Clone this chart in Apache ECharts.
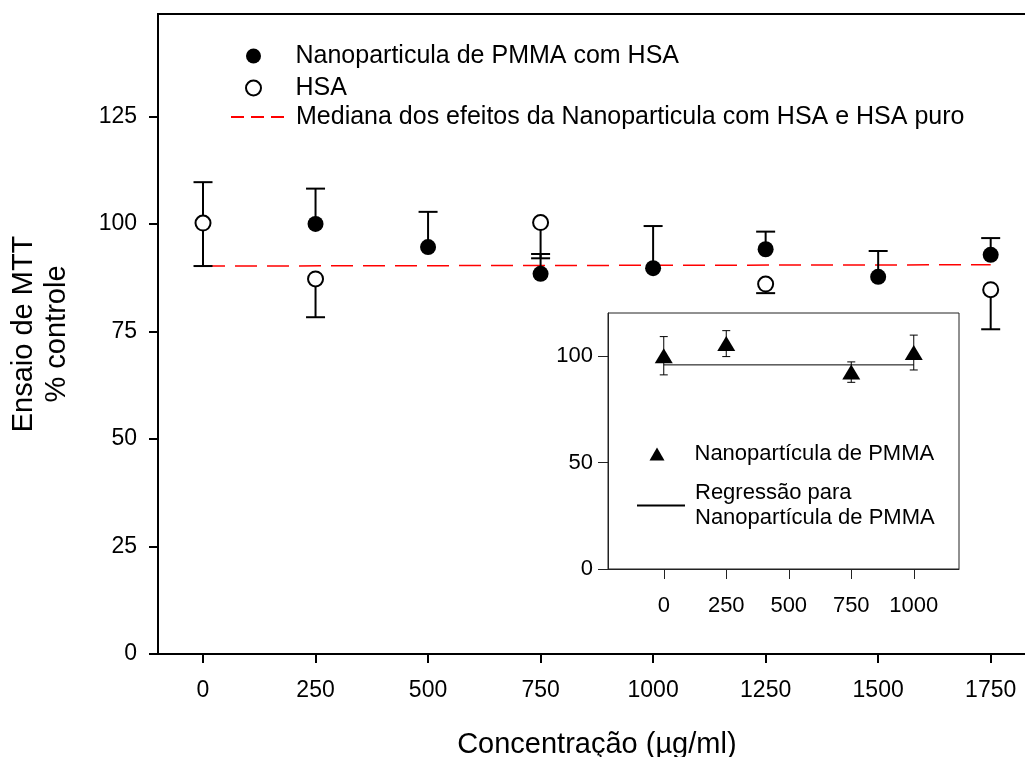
<!DOCTYPE html>
<html><head><meta charset="utf-8">
<script src="https://cdn.jsdelivr.net/npm/echarts@6/dist/echarts.min.js"></script>
<style>html,body{margin:0;padding:0;background:#fff}#c{width:1025px;height:757px}</style>
</head><body><div id="c"></div>
<script>
// ---- Main chart data ----
const xTicks = [0, 250, 500, 750, 1000, 1250, 1500, 1750];
const yTicks = [0, 25, 50, 75, 100, 125];
const nanoHsaX = [250, 500, 750, 1000, 1250, 1500, 1750];
const nanoHsaY = [100, 94.6, 88.4, 89.7, 94.1, 87.7, 92.8];
const nanoHsaErrUp = [8.2, 8.2, 4.6, 9.8, 4.1, 6.0, 3.9];
const hsaX = [0, 250, 750, 1250, 1750];
const hsaY = [100.2, 87.2, 100.3, 86.0, 84.7];
const hsaErrUp = [9.5, 0, 0, 0, 0];
const hsaErrDown = [10, 8.9, 8.3, 2.1, 9.2];
const medianX = [0, 1750];
const medianY = [90.2, 90.5];

// ---- Inset data ----
const insetXTicks = [0, 250, 500, 750, 1000];
const insetYTicks = [0, 50, 100];
const insetX = [0, 250, 750, 1000];
const insetY = [100.3, 106, 92.6, 101.8];
const insetErr = [9, 6.1, 4.8, 8.2];
const regressionX = [0, 1000];
const regressionY = [96, 96];

const FONT = "'Liberation Sans', Arial, sans-serif";
const NAME_NANO_HSA = 'Nanoparticula de PMMA com HSA';
const NAME_HSA = 'HSA';
const NAME_MED = 'Mediana dos efeitos da Nanoparticula com HSA e HSA puro';
const NAME_NANO = 'Nanopartícula de PMMA';
const NAME_REG = 'Regressão para Nanopartícula de PMMA';
const plain = v => String(v);
const hiddenDot = { color: 'rgba(0,0,0,0)', borderWidth: 0, borderColor: 'rgba(0,0,0,0)' };

function errRender(capHalf, lw) {
  return function (params, api) {
    const x = api.value(0), lo = api.value(1), hi = api.value(2);
    const pLo = api.coord([x, lo]), pHi = api.coord([x, hi]);
    const st = { stroke: '#000', lineWidth: lw };
    const ch = [{ type: 'line', shape: { x1: pLo[0], y1: pLo[1], x2: pHi[0], y2: pHi[1] }, style: st }];
    if (api.value(3)) ch.push({ type: 'line', shape: { x1: pLo[0] - capHalf, y1: pLo[1], x2: pLo[0] + capHalf, y2: pLo[1] }, style: st });
    if (api.value(4)) ch.push({ type: 'line', shape: { x1: pHi[0] - capHalf, y1: pHi[1], x2: pHi[0] + capHalf, y2: pHi[1] }, style: st });
    return { type: 'group', children: ch };
  };
}

const nanoHsaErrData = nanoHsaX.map((x, i) => [x, nanoHsaY[i], nanoHsaY[i] + nanoHsaErrUp[i], 0, 1]);
const hsaErrData = hsaX.map((x, i) => [x, hsaY[i] - hsaErrDown[i], hsaY[i] + hsaErrUp[i], hsaErrDown[i] > 0 ? 1 : 0, hsaErrUp[i] > 0 ? 1 : 0]);
const insetErrData = insetX.map((x, i) => [x, insetY[i] - insetErr[i], insetY[i] + insetErr[i], 1, 1]);

const legendText = (size, pad) => ({ fontSize: size, lineHeight: 25, color: '#000', fontFamily: FONT, padding: [0, 0, 0, pad] });

const chart = echarts.init(document.getElementById('c'), null, { renderer: 'canvas' });
chart.setOption({
  animation: false,
  backgroundColor: '#fff',
  grid: [
    { left: 158, top: 14, width: 877.7, height: 640, containLabel: false, outerBoundsMode: 'none', show: true, borderColor: '#000', borderWidth: 2, backgroundColor: 'transparent' },
    { left: 608, top: 313, width: 351, height: 256, containLabel: false, outerBoundsMode: 'none', show: true, borderColor: '#222', borderWidth: 1, backgroundColor: '#fff', z: 5 }
  ],
  xAxis: [
    {
      type: 'value', gridIndex: 0, min: -100, max: 1850,
      splitLine: { show: false },
      axisLine: { show: true, onZero: false, lineStyle: { color: '#000', width: 2 } },
      axisTick: { show: true, customValues: xTicks, length: 9, lineStyle: { color: '#000', width: 2 } },
      axisLabel: { customValues: xTicks, formatter: plain, margin: 25, fontSize: 23, color: '#000', fontFamily: FONT },
      name: 'Concentração (µg/ml)', nameLocation: 'middle', nameGap: 76,
      nameTextStyle: { fontSize: 29, color: '#000', fontFamily: FONT }
    },
    {
      type: 'value', gridIndex: 1, min: -223, max: 1181,
      splitLine: { show: false },
      axisLine: { show: true, onZero: false, lineStyle: { color: '#222', width: 1 } },
      axisTick: { show: true, customValues: insetXTicks, length: 10, lineStyle: { color: '#222', width: 1 } },
      axisLabel: { customValues: insetXTicks, formatter: plain, margin: 26, fontSize: 22, color: '#000', fontFamily: FONT },
      z: 6
    }
  ],
  yAxis: [
    {
      type: 'value', gridIndex: 0, min: 0, max: 148.8,
      splitLine: { show: false },
      axisLine: { show: true, onZero: false, lineStyle: { color: '#000', width: 2 } },
      axisTick: { show: true, customValues: yTicks, length: 9, lineStyle: { color: '#000', width: 2 } },
      axisLabel: { customValues: yTicks, formatter: plain, margin: 21, fontSize: 23, color: '#000', fontFamily: FONT },
      name: 'Ensaio de MTT\n% controle', nameLocation: 'middle', nameRotate: 90, nameGap: 85,
      nameTextStyle: { fontSize: 29, lineHeight: 33, color: '#000', fontFamily: FONT, align: 'center' }
    },
    {
      type: 'value', gridIndex: 1, min: 0, max: 120.4,
      splitLine: { show: false },
      axisLine: { show: true, onZero: false, lineStyle: { color: '#222', width: 1 } },
      axisTick: { show: true, customValues: insetYTicks, length: 10, lineStyle: { color: '#222', width: 1 } },
      axisLabel: { customValues: insetYTicks, formatter: plain, margin: 15, fontSize: 22, color: '#000', fontFamily: FONT },
      z: 6
    }
  ],
  legend: [
    {
      left: 245, top: 43.5, padding: 0, orient: 'vertical', itemWidth: 16, itemHeight: 15, itemGap: 7,
      selectedMode: false, textStyle: legendText(25, 29),
      data: [NAME_NANO_HSA, NAME_HSA]
    },
    {
      left: 230, top: 104.5, padding: 0, orient: 'vertical', itemWidth: 53, itemHeight: 15,
      selectedMode: false, textStyle: legendText(25, 7),
      data: [{ name: NAME_MED, lineStyle: { type: [13, 7] }, itemStyle: hiddenDot }]
    },
    {
      left: 649.5, top: 441.5, padding: 0, orient: 'vertical', itemWidth: 15, itemHeight: 13,
      selectedMode: false, z: 10, textStyle: legendText(22, 25),
      data: [NAME_NANO]
    },
    {
      left: 636, top: 480.5, padding: 0, orient: 'vertical', itemWidth: 48, itemHeight: 14,
      selectedMode: false, z: 10, textStyle: legendText(22, 5),
      formatter: () => 'Regressão para\nNanopartícula de PMMA',
      data: [{ name: NAME_REG, itemStyle: hiddenDot }]
    }
  ],
  series: [
    {
      name: NAME_MED, type: 'line', xAxisIndex: 0, yAxisIndex: 0, z: 2,
      symbol: 'none', showSymbol: false,
      lineStyle: { color: '#ff0000', width: 1.5, type: [22, 10] },
      itemStyle: { color: '#ff0000' },
      data: medianX.map((x, i) => [x, medianY[i]])
    },
    {
      name: 'errNanoHsa', type: 'custom', xAxisIndex: 0, yAxisIndex: 0, z: 3,
      renderItem: errRender(9.5, 2), encode: { x: 0, y: [1, 2] },
      data: nanoHsaErrData
    },
    {
      name: 'errHsa', type: 'custom', xAxisIndex: 0, yAxisIndex: 0, z: 3,
      renderItem: errRender(9.5, 2), encode: { x: 0, y: [1, 2] },
      data: hsaErrData
    },
    {
      name: NAME_NANO_HSA, type: 'scatter', xAxisIndex: 0, yAxisIndex: 0, z: 4,
      symbol: 'circle', symbolSize: 16,
      itemStyle: { color: '#000', opacity: 1 },
      data: nanoHsaX.map((x, i) => [x, nanoHsaY[i]])
    },
    {
      name: NAME_HSA, type: 'scatter', xAxisIndex: 0, yAxisIndex: 0, z: 4,
      symbol: 'circle', symbolSize: 15,
      itemStyle: { color: '#fff', borderColor: '#000', borderWidth: 2, opacity: 1 },
      data: hsaX.map((x, i) => [x, hsaY[i]])
    },
    {
      name: NAME_REG, type: 'line', xAxisIndex: 1, yAxisIndex: 1, z: 7,
      symbol: 'none', showSymbol: false,
      lineStyle: { color: '#000', width: 1 },
      itemStyle: { color: '#000' },
      data: regressionX.map((x, i) => [x, regressionY[i]])
    },
    {
      name: 'errInset', type: 'custom', xAxisIndex: 1, yAxisIndex: 1, z: 7,
      renderItem: errRender(4, 1), encode: { x: 0, y: [1, 2] },
      data: insetErrData
    },
    {
      name: NAME_NANO, type: 'scatter', xAxisIndex: 1, yAxisIndex: 1, z: 8,
      symbol: 'triangle', symbolSize: [18, 15],
      itemStyle: { color: '#000', opacity: 1 },
      data: insetX.map((x, i) => [x, insetY[i]])
    }
  ]
});
</script>
</body></html>
